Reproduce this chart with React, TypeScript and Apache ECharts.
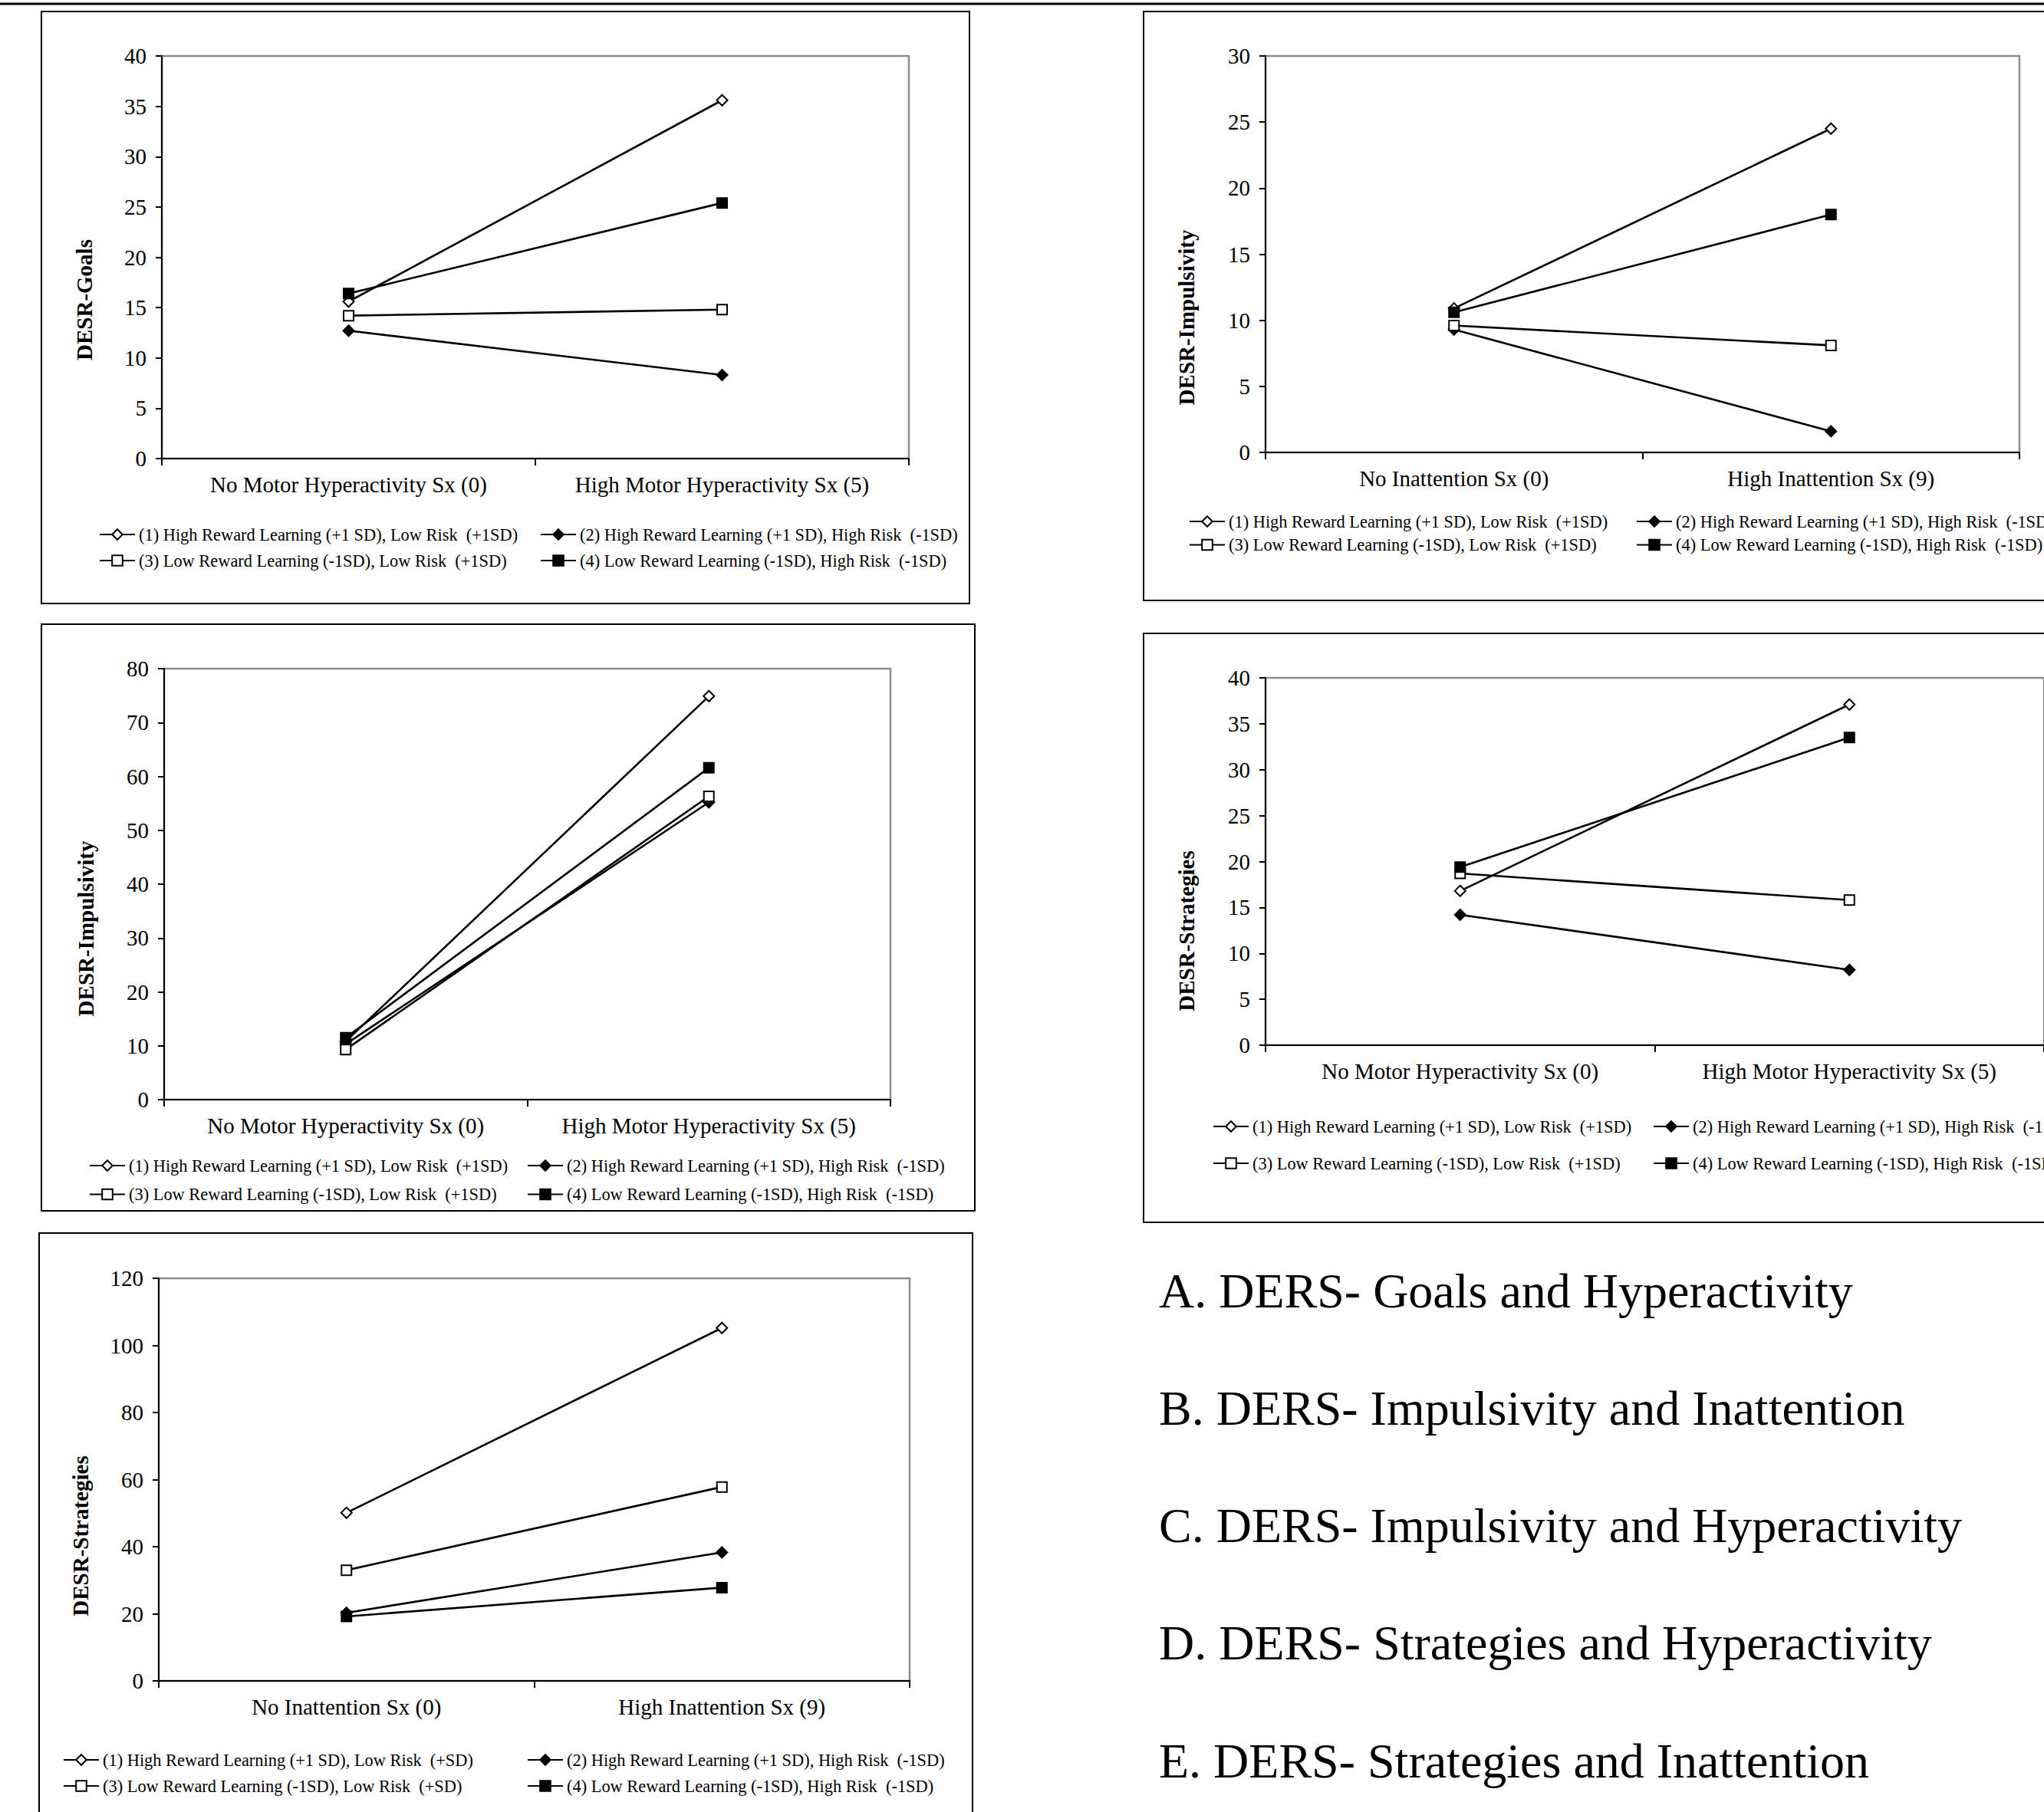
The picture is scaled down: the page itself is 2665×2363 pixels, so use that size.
import React, { useEffect, useRef } from "react";
import * as echarts from "echarts";

// ---------- data ----------
const hyperCats = ["No Motor Hyperactivity Sx (0)", "High Motor Hyperactivity Sx (5)"];
const inattCats = ["No Inattention Sx (0)", "High Inattention Sx (9)"];

const L1 = "(1) High Reward Learning (+1 SD), Low Risk  (+1SD)";
const L2 = "(2) High Reward Learning (+1 SD), High Risk  (-1SD)";
const L3 = "(3) Low Reward Learning (-1SD), Low Risk  (+1SD)";
const L4 = "(4) Low Reward Learning (-1SD), High Risk  (-1SD)";
const E1 = "(1) High Reward Learning (+1 SD), Low Risk  (+SD)";
const E3 = "(3) Low Reward Learning (-1SD), Low Risk  (+SD)";

// A. Goals x Hyperactivity
const goalsHyperS1 = [15.6, 35.6];
const goalsHyperS2 = [12.7, 8.3];
const goalsHyperS3 = [14.2, 14.8];
const goalsHyperS4 = [16.4, 25.4];
// B. Impulsivity x Inattention
const impInattS1 = [10.9, 24.5];
const impInattS2 = [9.3, 1.6];
const impInattS3 = [9.6, 8.1];
const impInattS4 = [10.6, 18.0];
// C. Impulsivity x Hyperactivity
const impHyperS1 = [10.8, 74.9];
const impHyperS2 = [10.3, 55.2];
const impHyperS3 = [9.3, 56.3];
const impHyperS4 = [11.5, 61.6];
// D. Strategies x Hyperactivity
const stratHyperS1 = [16.8, 37.1];
const stratHyperS2 = [14.2, 8.2];
const stratHyperS3 = [18.7, 15.8];
const stratHyperS4 = [19.4, 33.5];
// E. Strategies x Inattention
const stratInattS1 = [50.1, 105.2];
const stratInattS2 = [20.3, 38.3];
const stratInattS3 = [33.0, 57.8];
const stratInattS4 = [19.2, 27.8];

const captions = [
  "A. DERS- Goals and Hyperactivity",
  "B. DERS- Impulsivity and Inattention",
  "C. DERS- Impulsivity and Hyperactivity",
  "D. DERS- Strategies and Hyperactivity",
  "E. DERS- Strategies and Inattention",
];

const FONT = "'Liberation Serif', 'Times New Roman', serif";
const SYMBOLS = ["emptyDiamond", "diamond", "emptyRect", "rect"];
const SYMBOL_SIZES = [14, 14, 13, 13];

const panels = [
  {
    cats: hyperCats, yMax: 40, yInterval: 5, yName: "DESR-Goals",
    series: [goalsHyperS1, goalsHyperS2, goalsHyperS3, goalsHyperS4], names: [L1, L2, L3, L4],
    grid: { left: 211, top: 73, width: 974, height: 525 },
    nameAt: [110, 391],
    legend: { c1: 129, c2: 704, top: 686, gap: 12 },
    frame: [54, 15, 1210, 772],
  },
  {
    cats: inattCats, yMax: 30, yInterval: 5, yName: "DESR-Impulsivity",
    series: [impInattS1, impInattS2, impInattS3, impInattS4], names: [L1, L2, L3, L4],
    grid: { left: 1650, top: 73, width: 983, height: 517 },
    nameAt: [1547, 414],
    legend: { c1: 1550, c2: 2133, top: 669, gap: 8.5 },
    frame: [1491, 15, 1250, 768],
  },
  {
    cats: hyperCats, yMax: 80, yInterval: 10, yName: "DESR-Impulsivity",
    series: [impHyperS1, impHyperS2, impHyperS3, impHyperS4], names: [L1, L2, L3, L4],
    grid: { left: 214, top: 872, width: 947, height: 562 },
    nameAt: [112, 1211],
    legend: { c1: 116, c2: 687, top: 1509, gap: 15.5 },
    frame: [54, 814, 1217, 765],
  },
  {
    cats: hyperCats, yMax: 40, yInterval: 5, yName: "DESR-Strategies",
    series: [stratHyperS1, stratHyperS2, stratHyperS3, stratHyperS4], names: [L1, L2, L3, L4],
    grid: { left: 1650, top: 884, width: 1068, height: 479 },
    nameAt: [1547, 1214],
    legend: { c1: 1581, c2: 2155, top: 1458, gap: 26 },
    frame: [1491, 826, 1250, 768],
  },
  {
    cats: inattCats, yMax: 120, yInterval: 20, yName: "DESR-Strategies",
    series: [stratInattS1, stratInattS2, stratInattS3, stratInattS4], names: [E1, L2, E3, L4],
    grid: { left: 207, top: 1667, width: 979, height: 525 },
    nameAt: [105, 2003],
    legend: { c1: 82, c2: 687, top: 2284, gap: 12 },
    frame: [51, 1608, 1217, 800],
  },
];

function buildOption() {
  const grid: any[] = [];
  const xAxis: any[] = [];
  const yAxis: any[] = [];
  const series: any[] = [];
  const legend: any[] = [];
  const graphic: any[] = [];

  graphic.push({
    type: "line", z: 0,
    shape: { x1: 0, y1: 5, x2: 2665, y2: 5 },
    style: { stroke: "#000", lineWidth: 3 },
  });

  panels.forEach((p, i) => {
    grid.push({
      ...p.grid,
      show: true,
      borderColor: "#8c8c8c",
      borderWidth: 2.5,
      backgroundColor: "transparent",
      containLabel: false,
    });
    xAxis.push({
      type: "category",
      gridIndex: i,
      data: p.cats,
      boundaryGap: true,
      axisLine: { show: true, lineStyle: { color: "#000", width: 2 } },
      axisTick: { show: true, length: 9, lineStyle: { color: "#000", width: 2 } },
      axisLabel: { color: "#000", fontSize: 29, fontFamily: FONT, margin: 19, interval: 0, hideOverlap: false },
      splitLine: { show: false },
    });
    yAxis.push({
      type: "value",
      gridIndex: i,
      min: 0,
      max: p.yMax,
      interval: p.yInterval,
      axisLine: { show: true, lineStyle: { color: "#000", width: 2 } },
      axisTick: { show: true, length: 8, lineStyle: { color: "#000", width: 2 } },
      axisLabel: { color: "#000", fontSize: 29, fontFamily: FONT, margin: 20 },
      splitLine: { show: false },
    });
    p.series.forEach((vals, k) => {
      series.push({
        type: "line",
        name: p.names[k],
        xAxisIndex: i,
        yAxisIndex: i,
        data: vals,
        symbol: SYMBOLS[k],
        symbolSize: SYMBOL_SIZES[k],
        showSymbol: true,
        lineStyle: { color: "#000", width: 2.6 },
        itemStyle: { color: "#000", borderColor: "#000", borderWidth: 2 },
        emphasis: { disabled: true },
        z: 3 + k,
      });
    });
    const lg = {
      orient: "vertical",
      top: p.legend.top,
      itemGap: p.legend.gap,
      itemWidth: 46,
      itemHeight: 17,
      padding: 0,
      selectedMode: false,
      textStyle: { color: "#000", fontSize: 22.4, fontFamily: FONT },
    };
    legend.push({ ...lg, left: p.legend.c1, data: [p.names[0], p.names[2]] });
    legend.push({ ...lg, left: p.legend.c2, data: [p.names[1], p.names[3]] });

    graphic.push({
      type: "rect", z: 0, silent: true,
      shape: { x: p.frame[0], y: p.frame[1], width: p.frame[2], height: p.frame[3] },
      style: { fill: "none", stroke: "#000", lineWidth: 2 },
    });
    graphic.push({
      type: "text", z: 10,
      x: p.nameAt[0], y: p.nameAt[1],
      rotation: Math.PI / 2,
      style: {
        text: p.yName,
        font: `bold 29px ${FONT}`,
        fill: "#000",
        align: "center",
        verticalAlign: "middle",
      },
    });
  });

  const capY = [1683, 1836, 1989, 2142, 2296];
  captions.forEach((c, i) => {
    graphic.push({
      type: "text", z: 10,
      x: 1511, y: capY[i],
      style: {
        text: c,
        font: `64px ${FONT}`,
        fill: "#000",
        align: "left",
        verticalAlign: "middle",
      },
    });
  });

  return {
    animation: false,
    backgroundColor: "#fff",
    grid, xAxis, yAxis, series, legend, graphic,
  };
}

export default function App() {
  const ref = useRef<HTMLDivElement>(null);
  useEffect(() => {
    if (!ref.current) return;
    const chart = echarts.init(ref.current, null, { renderer: "svg", width: 2665, height: 2363 });
    chart.setOption(buildOption() as any);
    return () => chart.dispose();
  }, []);
  return (
    <div
      ref={ref}
      style={{ position: "absolute", left: 0, top: 0, width: 2665, height: 2363, background: "#fff" }}
    />
  );
}
